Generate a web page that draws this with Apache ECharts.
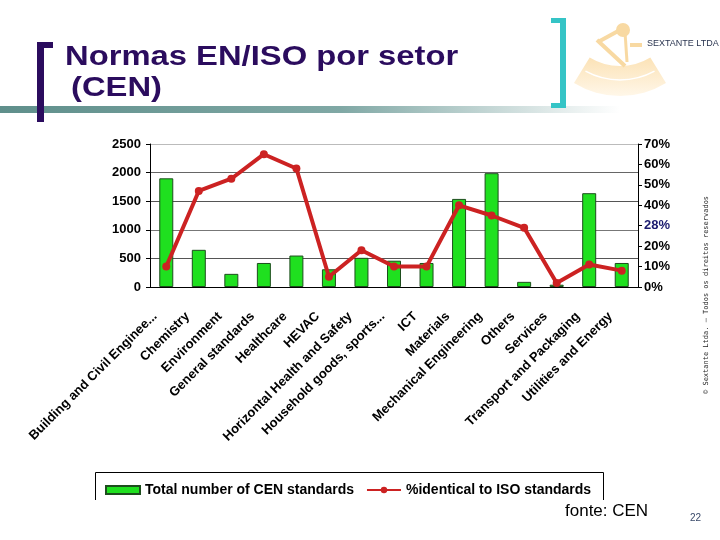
<!DOCTYPE html>
<html><head><meta charset="utf-8">
<script src="https://cdn.jsdelivr.net/npm/echarts@6/dist/echarts.min.js"></script>
<style>html,body{margin:0;padding:0;background:#fff}#c{width:720px;height:540px}</style>
</head><body><div id="c"></div>
<script>
const categories = [
  'Building and Civil Enginee...', 'Chemistry', 'Environment', 'General standards',
  'Healthcare', 'HEVAC', 'Horizontal Health and Safety', 'Household goods, sports...',
  'ICT', 'Materials', 'Mechanical Engineering', 'Others', 'Services',
  'Transport and Packaging', 'Utilities and Energy'
];
const totalStandards = [1900, 650, 230, 420, 550, 310, 510, 460, 420, 1540, 1990, 90, 40, 1640, 420];
const pctIdentical = [10, 47, 53, 65, 58, 5, 18, 10, 10, 40, 35, 29, 2, 11, 8];
const rightTickLabels = ['0%', '10%', '20%', '28%', '40%', '50%', '60%', '70%'];
const seriesNames = ['Total number of CEN standards', '%identical to ISO standards'];

const chart = echarts.init(document.getElementById('c'), null, {renderer: 'canvas'});
const F = 'Arial, "Liberation Sans", sans-serif';
const navy = '#2b0c5e';

chart.setOption({
  animation: false,
  backgroundColor: '#fff',
  grid: {left: 150, right: 82, top: 144, bottom: 253, containLabel: false},
  xAxis: {
    type: 'category', data: categories, boundaryGap: true,
    axisLine: {lineStyle: {color: '#000', width: 1}},
    axisTick: {length: 4, lineStyle: {color: '#000'}},
    axisLabel: {rotate: 45, interval: 0, margin: 16, padding: [0, 16, 0, 0], color: '#000', fontFamily: F, fontWeight: 'bold', fontSize: 13}
  },
  yAxis: [{
    type: 'value', min: 0, max: 2500, interval: 500, position: 'left',
    axisLine: {show: true, lineStyle: {color: '#000'}},
    axisTick: {show: true, length: 4, lineStyle: {color: '#000'}},
    axisLabel: {margin: 9, color: '#000', fontFamily: F, fontWeight: 'bold', fontSize: 13,
      formatter: function (v) { return String(v); }},
    splitLine: {show: true, lineStyle: {color: ['#666', '#555', '#777', '#555', '#666', '#bbb'], width: 1}}
  }, {
    type: 'value', min: 0, max: 70, interval: 10, position: 'right',
    axisLine: {show: true, lineStyle: {color: '#000'}},
    axisTick: {show: true, length: 4, lineStyle: {color: '#000'}},
    splitLine: {show: false},
    axisLabel: {
      margin: 6, color: '#000', fontFamily: F, fontWeight: 'bold', fontSize: 13,
      formatter: function (v) {
        const s = rightTickLabels[Math.round(v / 10)];
        return v === 30 ? '{b|' + s + '}' : s;
      },
      rich: {b: {color: '#1a1a6e', fontFamily: F, fontWeight: 'bold', fontSize: 13}}
    }
  }],
  legend: {
    left: 100, top: 478, itemGap: 12, itemWidth: 34, itemHeight: 8,
    textStyle: {color: '#000', fontFamily: F, fontSize: 14, fontWeight: 'bold'},
    data: [
      {name: seriesNames[0], icon: 'rect'},
      {name: seriesNames[1]}
    ]
  },
  series: [{
    name: seriesNames[0], type: 'bar', data: totalStandards, barWidth: 14,
    itemStyle: {color: '#1fe01f', borderColor: '#1d4d1d', borderWidth: 1}
  }, {
    name: seriesNames[1], type: 'line', yAxisIndex: 1, data: pctIdentical, z: 5,
    symbol: 'circle', symbolSize: 8,
    lineStyle: {color: '#cc2222', width: 4},
    itemStyle: {color: '#cc2222'}
  }],
  graphic: [
    // gradient band
    {type: 'rect', shape: {x: 0, y: 106, width: 620, height: 7}, z: -1,
     style: {fill: new echarts.graphic.LinearGradient(0, 0, 1, 0, [
       {offset: 0, color: '#5f8f8b'}, {offset: 0.55, color: '#80a8a5'}, {offset: 1, color: '#ffffff'}])}},
    // left bracket
    {type: 'rect', shape: {x: 37, y: 42, width: 7, height: 80}, style: {fill: navy}},
    {type: 'rect', shape: {x: 37, y: 42, width: 16, height: 6}, style: {fill: navy}},
    // title (horizontally stretched like the original slide)
    {type: 'text', x: 65, y: 43, scaleX: 1.17, style: {text: 'Normas EN/ISO por setor', fill: navy, font: 'bold 28px ' + F, textVerticalAlign: 'top'}},
    {type: 'text', x: 71, y: 74, scaleX: 1.17, style: {text: '(CEN)', fill: navy, font: 'bold 28px ' + F, textVerticalAlign: 'top'}},
    // right bracket
    {type: 'rect', shape: {x: 560, y: 18, width: 6, height: 90}, style: {fill: '#35c4c6'}},
    {type: 'rect', shape: {x: 551, y: 18, width: 15, height: 5}, style: {fill: '#35c4c6'}},
    {type: 'rect', shape: {x: 551, y: 103, width: 15, height: 5}, style: {fill: '#35c4c6'}},
    // logo (sextant)
    {type: 'sector', shape: {cx: 620, cy: 8, r0: 58, r: 88, startAngle: Math.PI / 2 - 0.55, endAngle: Math.PI / 2 + 0.55, clockwise: true},
     style: {fill: new echarts.graphic.LinearGradient(0, 0, 0, 1, [
       {offset: 0, color: '#fbdfae'}, {offset: 1, color: '#fff6e6'}]), opacity: 0.9}},
    {type: 'arc', shape: {cx: 620, cy: 8, r: 72, startAngle: Math.PI / 2 - 0.5, endAngle: Math.PI / 2 + 0.5, clockwise: true},
     style: {stroke: '#fff', lineWidth: 1.5, fill: null}},
    {type: 'line', shape: {x1: 597, y1: 40, x2: 625, y2: 66}, style: {stroke: '#f8d9a2', lineWidth: 4}},
    {type: 'line', shape: {x1: 620, y1: 30, x2: 598, y2: 42}, style: {stroke: '#f8d9a2', lineWidth: 4}},
    {type: 'line', shape: {x1: 625, y1: 32, x2: 627, y2: 62}, style: {stroke: '#f8d9a2', lineWidth: 3}},
    {type: 'line', shape: {x1: 630, y1: 45, x2: 642, y2: 45}, style: {stroke: '#f8d9a2', lineWidth: 4}},
    {type: 'circle', shape: {cx: 623, cy: 30, r: 7}, style: {fill: '#f8d9a2'}},
    {type: 'text', left: 647, top: 39, style: {text: 'SEXTANTE LTDA', fill: '#2a3550', font: '9px ' + F}},
    // copyright vertical
    {type: 'text', x: 706, y: 394, rotation: Math.PI / 2, style: {text: '\u00a9 Sextante Ltda. \u2013 Todos os direitos reservados', fill: '#222', font: '7px "DejaVu Sans Mono", monospace', textAlign: 'left', textVerticalAlign: 'middle'}},
    // legend box
    {type: 'polyline', shape: {points: [[95.5, 500], [95.5, 472.5], [603.5, 472.5], [603.5, 500]]}, style: {stroke: '#000', lineWidth: 1, fill: null}},
    // source & page
    {type: 'text', left: 565, top: 503, style: {text: 'fonte: CEN', fill: '#000', font: '17px ' + F}},
    {type: 'text', left: 690, top: 513, style: {text: '22', fill: '#3a4a6a', font: '10px ' + F}}
  ]
});
</script></body></html>
